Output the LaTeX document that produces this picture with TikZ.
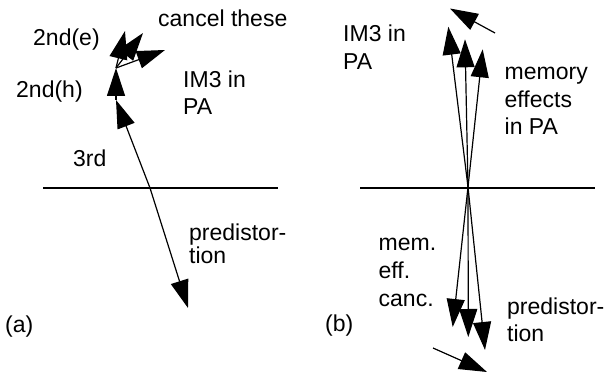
\documentclass[tikz,border=0pt]{standalone}
\usepackage{fontspec}
\setmainfont{Liberation Sans}
\usetikzlibrary{arrows.meta}
\tikzset{
  vec/.style={line width=1.2pt, -{Triangle[length=28pt,width=18pt]}},
  small/.style={line width=1.2pt, -{Triangle[length=28pt,width=18pt]}},
  axis/.style={line width=1.2pt},
  lbl/.style={inner sep=0pt, anchor=base west, font=\fontsize{23}{27}\selectfont}
}
\begin{document}
\begin{tikzpicture}[x=1pt,y=-1pt]
\useasboundingbox (0,0) rectangle (606,374);
% ---------- panel (a) ----------
\coordinate (aL) at (43,188);
\coordinate (aR) at (278,188);
\draw[axis] (aL) -- (aR);
\coordinate (Oa) at (150,188);
\coordinate (T3) at (116,100);
\coordinate (T2h) at (116,68);
\coordinate (Te1) at (125,31);
\coordinate (Te2) at (143,33);
\coordinate (Te3) at (165,50);
\coordinate (Tp) at (188,308);
\draw[vec] (Oa) -- (T3);
\draw[vec] (T3) -- (T2h);
\draw[vec] (T2h) -- (Te1);
\draw[vec] (T2h) -- (Te2);
\draw[vec] (T2h) -- (Te3);
\draw[vec] (Oa) -- (Tp);
\node[lbl] (ae) at (33,46) {2nd(e)};
\node[lbl] (acancel) at (158,27) {cancel these};
\node[lbl] (ah) at (16,98) {2nd(h)};
\node[lbl] (aim1) at (183,88) {IM3 in};
\node[lbl] (aim2) at (183,115) {PA};
\node[lbl] (a3rd) at (73,167) {3rd};
\node[lbl] (apd1) at (189,241) {predistor-};
\node[lbl] (apd2) at (189,264) {tion};
\node[lbl] (alab) at (5,333) {(a)};
% ---------- panel (b) ----------
\coordinate (bL) at (360,188);
\coordinate (bR) at (595,188);
\draw[axis] (bL) -- (bR);
\coordinate (Ob) at (468,187);
\coordinate (U1) at (448.3,26.7);
\coordinate (U2) at (465,39.3);
\coordinate (U3) at (482.7,49.3);
\coordinate (D1) at (452.7,327);
\coordinate (D2) at (468.3,337);
\coordinate (D3) at (485,350);
\draw[vec] (Ob) -- (U1);
\draw[vec] (Ob) -- (U2);
\draw[vec] (Ob) -- (U3);
\draw[vec] (Ob) -- (D1);
\draw[vec] (Ob) -- (D2);
\draw[vec] (Ob) -- (D3);
\coordinate (s1a) at (495,33);
\coordinate (s1b) at (450,8.5);
\coordinate (s2a) at (433,348);
\coordinate (s2b) at (487,372);
\draw[small] (s1a) -- (s1b);
\draw[small] (s2a) -- (s2b);
\node[lbl] (bim1) at (343,42) {IM3 in};
\node[lbl] (bim2) at (343,70) {PA};
\node[lbl] (bme1) at (504.5,80) {memory};
\node[lbl] (bme2) at (504.5,107.5) {effects};
\node[lbl] (bme3) at (504.5,135) {in PA};
\node[lbl] (bmc1) at (378.5,251) {mem.};
\node[lbl] (bmc2) at (378.5,279) {eff.};
\node[lbl] (bmc3) at (378.5,307) {canc.};
\node[lbl] (bpd1) at (507,315) {predistor-};
\node[lbl] (bpd2) at (507,342) {tion};
\node[lbl] (blab) at (325,332) {(b)};
\end{tikzpicture}
\end{document}
